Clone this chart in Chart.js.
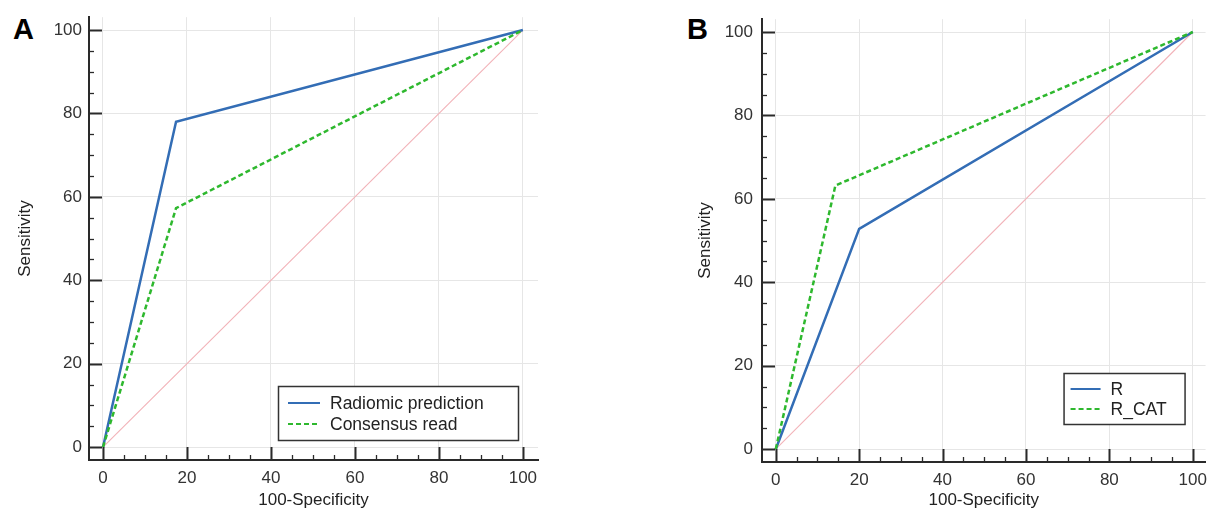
<!DOCTYPE html>
<html><head><meta charset="utf-8">
<script src="https://cdn.jsdelivr.net/npm/chart.js@4"></script>
<style>
html,body{margin:0;padding:0;background:#fff;width:1215px;height:513px;overflow:hidden;position:relative;font-family:"Liberation Sans",Arial,sans-serif}
.wrap{position:absolute;top:0;height:513px}
.letter{position:absolute;font:bold 29px/1 "Liberation Sans",Arial,sans-serif;color:#000}
canvas{display:block}
</style></head><body>
<div class="letter" style="left:13px;top:15px">A</div>
<div class="letter" style="left:687px;top:15px">B</div>
<div class="wrap" style="left:0;width:600px"><canvas id="cA" width="600" height="513"></canvas></div>
<div class="wrap" style="left:680px;width:535px"><canvas id="cB" width="535" height="513"></canvas></div>
<script>
// ---- data ----
const majorTicks = [0, 20, 40, 60, 80, 100];
const minorStep = 5;
const diagX = [0, 100];
const diagY = [0, 100];
// Panel A
const radiomicX = [0, 17.4, 100];
const radiomicY = [0, 78.0, 100];
const consensusX = [0, 17.4, 100];
const consensusY = [0, 57.3, 100];
// Panel B
const rX = [0, 20.0, 100];
const rY = [0, 52.8, 100];
const rcatX = [0, 14.3, 100];
const rcatY = [0, 63.2, 100];
const labelsA = ['Radiomic prediction', 'Consensus read'];
const labelsB = ['R', 'R_CAT'];
const xTitle = '100-Specificity';
const yTitle = 'Sensitivity';

const FONT = '"Liberation Sans", Arial, sans-serif';
const BLUE = '#336db5';
const GREEN = '#2eb82e';
const PINK = '#f2b2b8';
const AXIS = '#2a2a2a';

const pts = (xs, ys) => xs.map((x, i) => ({x, y: ys[i]}));

const decor = {
  id: 'decor',
  afterDatasetsDraw(chart, args, o) {
    const {ctx, chartArea: a, scales: {x, y}} = chart;
    ctx.save();
    ctx.strokeStyle = AXIS;
    for (let v = 0; v <= 100; v += minorStep) {
      const major = majorTicks.includes(v);
      const len = major ? 13 : 5;
      ctx.lineWidth = major ? 2 : 1.3;
      const px = Math.round(x.getPixelForValue(v)) + 0.5;
      ctx.beginPath(); ctx.moveTo(px, a.bottom); ctx.lineTo(px, a.bottom - len); ctx.stroke();
      const py = Math.round(y.getPixelForValue(v)) + 0.5;
      ctx.beginPath(); ctx.moveTo(a.left, py); ctx.lineTo(a.left + len, py); ctx.stroke();
    }
    // legend box
    const L = o.legend;
    const bx = a.right - L.right - L.w, by = a.bottom - L.bottom - L.h;
    ctx.fillStyle = '#fff';
    ctx.fillRect(bx, by, L.w, L.h);
    ctx.lineWidth = 1.5;
    ctx.strokeStyle = '#333';
    ctx.strokeRect(bx + 0.5, by + 0.5, L.w, L.h);
    ctx.font = '17.5px ' + FONT;
    ctx.textBaseline = 'middle';
    ctx.fillStyle = '#222';
    const items = chart.data.datasets.filter(d => d.label);
    items.forEach((d, i) => {
      const cy = by + L.first + i * L.gap;
      ctx.strokeStyle = d.borderColor;
      ctx.lineWidth = 2;
      ctx.setLineDash(d.borderDash || []);
      ctx.beginPath(); ctx.moveTo(bx + L.pad, cy); ctx.lineTo(bx + L.pad + L.sample, cy); ctx.stroke();
      ctx.setLineDash([]);
      ctx.fillText(d.label, bx + L.pad + L.sample + 10, cy + 1);
    });
    ctx.restore();
  }
};

function makeChart(id, cfg) {
  const canvasW = cfg.canvasW;
  const axisFont = {family: FONT, size: 17};
  new Chart(document.getElementById(id), {
    type: 'line',
    data: {
      datasets: [
        {label: '', data: pts(diagX, diagY), borderColor: PINK, borderWidth: 1.1, pointRadius: 0, tension: 0, order: 3},
        {label: cfg.labels[0], data: pts(cfg.s1x, cfg.s1y), borderColor: BLUE, borderWidth: 2.5, pointRadius: 0, tension: 0, order: 2},
        {label: cfg.labels[1], data: pts(cfg.s2x, cfg.s2y), borderColor: GREEN, borderWidth: 2.5, borderDash: [5, 3], pointRadius: 0, tension: 0, order: 1}
      ]
    },
    options: {
      responsive: false,
      animation: false,
      events: [],
      layout: {padding: {top: cfg.top, right: canvasW - cfg.right, bottom: 0, left: 0}},
      plugins: {legend: {display: false}, tooltip: {enabled: false}, decor: {legend: cfg.legend}},
      scales: {
        x: {
          type: 'linear', min: cfg.xmin, max: cfg.xmax,
          afterBuildTicks: s => { s.ticks = majorTicks.map(v => ({value: v})); },
          afterFit: s => { s.height = 513 - cfg.bottom; },
          grid: {color: '#e6e6e6', lineWidth: 1, drawTicks: false},
          border: {display: true, color: AXIS, width: 2},
          ticks: {color: '#333', font: axisFont, padding: 8, maxRotation: 0},
          title: {display: true, text: xTitle, color: '#222', font: axisFont, padding: {top: 0, bottom: 2}}
        },
        y: {
          type: 'linear', min: cfg.ymin, max: cfg.ymax,
          afterBuildTicks: s => { s.ticks = majorTicks.map(v => ({value: v})); },
          afterFit: s => { s.width = cfg.left; },
          grid: {color: '#e6e6e6', lineWidth: 1, drawTicks: false},
          border: {display: true, color: AXIS, width: 2},
          ticks: {color: '#333', font: axisFont, padding: cfg.ypad},
          title: {display: true, text: yTitle, color: '#222', font: axisFont, padding: {top: 15, bottom: 0}}
        }
      }
    },
    plugins: [decor]
  });
}

makeChart('cA', {
  canvasW: 600, left: 89, right: 538, top: 12, bottom: 460,
  xmin: -3.33, xmax: 103.6, ymin: -3.08, ymax: 103.08, ypad: 7,
  labels: labelsA, s1x: radiomicX, s1y: radiomicY, s2x: consensusX, s2y: consensusY,
  legend: {right: 20, bottom: 20, w: 240, h: 54, first: 17, gap: 21, pad: 10, sample: 32}
});
makeChart('cB', {
  canvasW: 535, left: 82, right: 533, top: 12, bottom: 462,
  xmin: -3.3, xmax: 103.07, ymin: -3.07, ymax: 103.07, ypad: 9,
  labels: labelsB, s1x: rX, s1y: rY, s2x: rcatX, s2y: rcatY,
  legend: {right: 21, bottom: 38, w: 121, h: 51, first: 16, gap: 20, pad: 7, sample: 30}
});
</script>
</body></html>
